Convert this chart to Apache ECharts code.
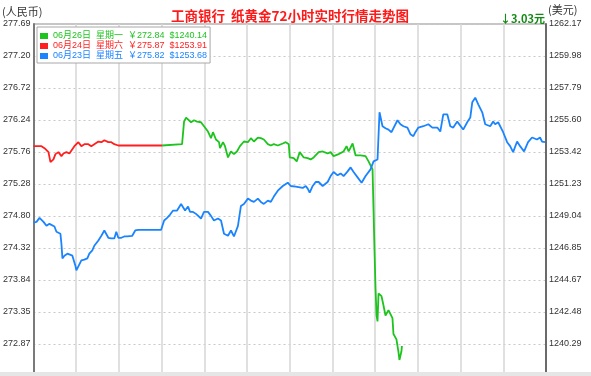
<!DOCTYPE html>
<html><head><meta charset="utf-8">
<script src="https://cdn.jsdelivr.net/npm/echarts@6/dist/echarts.min.js"></script>
<style>html,body{margin:0;padding:0;background:#fff}#c{width:591px;height:376px}</style>
</head><body><div id="c"></div>
<script>
// Tick labels (top to bottom)
const leftTicks = ['277.69','277.20','276.72','276.24','275.76','275.28','274.80','274.32','273.84','273.35','272.87'];
const rightTicks = ['1262.17','1259.98','1257.79','1255.60','1253.42','1251.23','1249.04','1246.85','1244.67','1242.48','1240.29'];
const priceTop = 277.69;
const priceStep = 0.482;
const hoursSpan = 72;

const seriesNames = [
  '06月26日  星期一  ￥272.84  $1240.14',
  '06月24日  星期六  ￥275.87  $1253.91',
  '06月23日  星期五  ￥275.82  $1253.68'
];
const seriesColors = ['#1ec41e', '#ff1f1f', '#1a84ff'];

// [hours since start, price in RMB]
const greenPoints = [[18.07,275.86],[20.87,275.88],[21.15,276.22],[21.43,276.28],[21.71,276.27],[22.13,276.21],[22.55,276.24],[22.97,276.22],[23.53,276.21],[23.95,276.15],[24.51,276.07],[24.93,275.97],[25.21,276.06],[25.63,275.95],[26.06,275.91],[26.20,275.82],[26.62,275.91],[26.90,275.85],[27.32,275.68],[27.74,275.77],[28.16,275.73],[28.58,275.77],[29.00,275.85],[29.56,275.92],[30.12,275.91],[30.54,275.97],[30.96,275.92],[31.52,275.98],[31.94,275.97],[32.36,275.95],[32.92,275.88],[33.34,275.86],[33.76,275.88],[34.32,275.86],[35.02,275.89],[35.44,275.91],[35.86,275.88],[36.00,275.68],[36.56,275.67],[36.98,275.62],[37.40,275.76],[37.96,275.68],[38.52,275.67],[38.94,275.65],[39.36,275.68],[40.06,275.76],[40.62,275.77],[41.32,275.74],[41.74,275.76],[42.16,275.70],[42.44,275.67],[42.86,275.73],[43.56,275.77],[43.98,275.85],[44.27,275.77],[44.83,275.89],[45.25,275.71],[45.95,275.71],[46.65,275.70],[47.07,275.62],[47.63,275.50],[47.77,274.88],[47.91,274.26],[48.05,273.71],[48.19,273.30],[48.33,273.21],[48.47,273.63],[48.89,273.59],[49.17,273.45],[49.45,273.30],[49.73,273.33],[49.87,273.38],[50.15,273.41],[50.43,273.26],[50.57,273.02],[50.99,272.94],[51.27,272.75],[51.41,272.63],[51.69,272.76],[51.76,272.84]];
const redPoints = [[0,275.85],[0.14,275.83],[0.70,275.85],[1.12,275.85],[1.54,275.82],[2.10,275.76],[2.38,275.61],[2.80,275.65],[3.08,275.73],[3.50,275.76],[3.92,275.70],[4.20,275.74],[4.62,275.76],[5.04,275.74],[5.32,275.77],[5.74,275.85],[6.30,275.91],[6.72,275.85],[7.14,275.88],[7.70,275.88],[8.12,275.85],[8.54,275.88],[9.11,275.92],[9.53,275.91],[9.95,275.94],[10.51,275.91],[10.93,275.91],[11.35,275.88],[11.91,275.86],[18.07,275.86]];
const bluePoints = [[0,274.70],[0.42,274.71],[0.84,274.77],[1.40,274.71],[1.82,274.65],[2.24,274.68],[2.52,274.68],[2.94,274.64],[3.22,274.56],[3.50,274.55],[3.78,274.53],[3.92,274.38],[4.06,274.16],[4.34,274.20],[4.76,274.23],[5.04,274.25],[5.46,274.20],[5.74,274.19],[5.88,274.05],[6.02,273.98],[6.30,274.04],[6.72,274.13],[7.14,274.14],[7.56,274.16],[7.84,274.23],[8.26,274.28],[8.54,274.35],[8.82,274.34],[9.11,274.43],[9.53,274.50],[9.95,274.58],[10.23,274.55],[10.51,274.47],[10.93,274.46],[11.35,274.46],[11.63,274.56],[11.91,274.47],[12.33,274.47],[12.75,274.49],[13.17,274.49],[13.45,274.52],[13.87,274.50],[14.29,274.58],[14.71,274.59],[17.93,274.59],[18.35,274.73],[18.77,274.77],[19.19,274.82],[19.61,274.88],[20.17,274.88],[20.73,274.98],[21.01,274.98],[21.29,274.88],[21.71,274.94],[21.99,274.86],[22.41,274.86],[22.83,274.83],[23.53,274.76],[23.95,274.86],[24.51,274.86],[24.93,274.80],[25.35,274.73],[25.91,274.76],[26.34,274.73],[26.76,274.53],[27.32,274.50],[27.74,274.58],[28.16,274.49],[28.72,274.65],[29.14,274.95],[29.56,274.98],[30.12,275.06],[30.54,275.03],[30.96,275.01],[31.52,275.06],[31.94,275.01],[32.36,274.98],[32.92,275.03],[33.34,275.01],[33.76,275.09],[34.32,275.18],[35.02,275.25],[35.72,275.30],[36.14,275.25],[36.84,275.24],[37.82,275.22],[38.24,275.25],[38.52,275.21],[38.80,275.15],[39.22,275.25],[39.64,275.31],[40.06,275.31],[40.62,275.25],[40.76,275.22],[41.32,275.31],[41.74,275.40],[42.16,275.46],[42.72,275.41],[43.14,275.44],[43.56,275.40],[44.13,275.47],[44.55,275.53],[44.97,275.46],[45.53,275.38],[46.09,275.30],[46.65,275.40],[47.35,275.50],[47.77,275.62],[48.33,275.65],[48.47,275.65],[48.61,276.36],[49.03,276.15],[49.45,276.12],[49.87,276.10],[50.29,276.06],[50.57,276.07],[51.13,276.24],[51.55,276.18],[51.97,276.15],[52.53,276.13],[52.95,276.03],[53.37,276.00],[53.65,276.06],[54.07,276.13],[54.77,276.15],[55.47,276.18],[56.03,276.13],[56.73,276.13],[57.15,276.07],[57.57,276.33],[58.13,276.33],[58.55,276.15],[58.97,276.13],[59.53,276.22],[59.81,276.25],[60.37,276.10],[60.93,276.21],[61.36,276.28],[61.64,276.51],[62.06,276.58],[62.34,276.55],[62.48,276.48],[63.04,276.36],[63.46,276.18],[64.16,276.15],[64.58,276.22],[64.86,276.18],[65.28,276.21],[65.98,276.06],[66.54,275.91],[66.96,275.85],[67.38,275.76],[67.94,275.92],[68.36,275.85],[68.92,275.77],[69.48,275.91],[70.04,275.98],[70.74,275.95],[71.16,275.98],[71.44,275.92],[71.86,275.91]];

const nRows = leftTicks.length; // 11 labelled rows, plus one below the visible area
const priceMin = priceTop - nRows * priceStep;

const chart = echarts.init(document.getElementById('c'), null, {renderer: 'canvas'});
const axisFont = {color: '#333', fontSize: 9, fontFamily: 'Liberation Sans, Arial, sans-serif'};
const lineSeries = [greenPoints, redPoints, bluePoints].map((pts, i) => ({
  name: seriesNames[i],
  type: 'line',
  yAxisIndex: 2,
  data: pts,
  showSymbol: false,
  symbol: 'none',
  color: seriesColors[i],
  lineStyle: {width: 1.8, color: seriesColors[i]},
  animation: false
}));

chart.setOption({
  animation: false,
  backgroundColor: '#fff',
  grid: {left: 32, top: 24, width: 514, height: 32.2 * nRows, show: true, borderColor: '#8c8c8c', borderWidth: 1, backgroundColor: 'transparent'},
  xAxis: {
    type: 'value', min: 0, max: hoursSpan, interval: 6,
    axisLine: {show: false}, axisTick: {show: false}, axisLabel: {show: false},
    splitLine: {show: true, lineStyle: {color: '#d6d6d6', width: 1.5}}
  },
  yAxis: [
    {
      type: 'value', min: 0, max: nRows, interval: 1, position: 'left',
      axisLine: {show: true, onZero: false, lineStyle: {color: '#7a7a7a', width: 2}},
      axisTick: {show: false},
      axisLabel: Object.assign({margin: 3, formatter: v => leftTicks[nRows - v] || ''}, axisFont),
      splitLine: {show: true, lineStyle: {color: '#c8c8c8', width: 1, type: [2, 3]}}
    },
    {
      type: 'value', min: 0, max: nRows, interval: 1, position: 'right',
      axisLine: {show: true, onZero: false, lineStyle: {color: '#6a6a6a', width: 2}},
      axisTick: {show: false},
      axisLabel: Object.assign({margin: 3, formatter: v => rightTicks[nRows - v] || ''}, axisFont),
      splitLine: {show: false}
    },
    {type: 'value', min: priceMin, max: priceTop, show: false}
  ],
  legend: {
    orient: 'vertical', left: 37, top: 27,
    backgroundColor: '#fff', borderColor: '#a8a8a8', borderWidth: 1,
    padding: [4, 3, 2, 3], itemGap: 0, itemWidth: 8, itemHeight: 6, icon: 'rect',
    selectedMode: false,
    textStyle: {fontSize: 9, lineHeight: 10, fontFamily: 'Liberation Sans, Noto Sans CJK SC, sans-serif'},
    data: seriesNames.map((n, i) => ({name: n, textStyle: {color: seriesColors[i]}}))
  },
  graphic: [
    {type: 'text', left: 2, top: 6, style: {text: '(人民币)', fill: '#333', font: '11px "Noto Sans CJK SC", sans-serif'}},
    {type: 'text', left: 548, top: 4, style: {text: '(美元)', fill: '#333', font: '11px "Noto Sans CJK SC", sans-serif'}},
    {type: 'text', x: 290, y: 16, style: {text: '工商银行  纸黄金72小时实时行情走势图', fill: '#ff1a1a', align: 'center', verticalAlign: 'middle', font: 'bold 13.5px "Noto Sans CJK SC", sans-serif'}},
    {type: 'text', x: 500, y: 19, style: {text: '↓3.03元', fill: '#138a13', align: 'left', verticalAlign: 'middle', font: 'bold 11px "Noto Sans CJK SC", sans-serif'}},
    {type: 'rect', shape: {x: 0, y: 372, width: 591, height: 4}, style: {fill: '#e6e6e6'}, z: 100}
  ],
  series: lineSeries
});
</script>
</body></html>
